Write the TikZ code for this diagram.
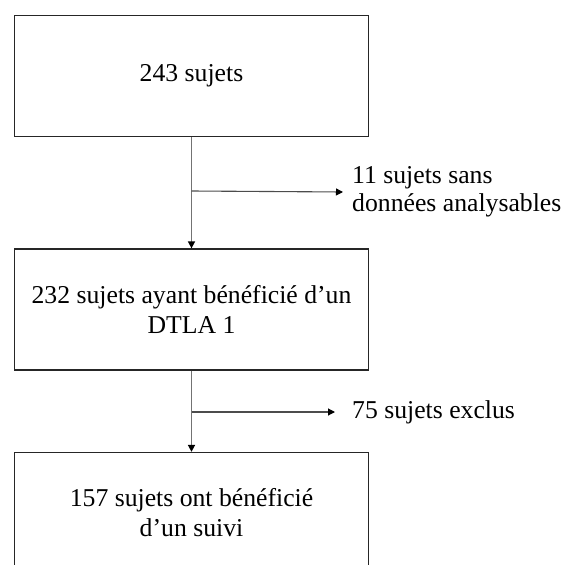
\documentclass[tikz,border=0pt]{standalone}
\usepackage{fontspec}
\setmainfont{Liberation Serif}
\usetikzlibrary{arrows.meta}
\begin{document}
\begin{tikzpicture}[x=1pt,y=-1pt,
  box/.style={draw=black!85,line width=1.3pt,minimum width=354pt,minimum height=121pt,
    inner sep=0pt,align=center,font=\fontsize{25.7}{30}\selectfont},
  lab/.style={anchor=west,align=left,inner ysep=0pt,font=\fontsize{25.7}{28}\selectfont},
  flow/.style={draw=black!55,line width=1.6pt,-{Triangle[length=7pt,width=7pt,color=black]}},
  side/.style={draw=black!70,line width=1.1pt,-{Triangle[length=7pt,width=7pt,color=black]}}]
\useasboundingbox (0,0) rectangle (560,565);
\node[box] (b1) at (191.5,76) {243 sujets};
\node[box] (b2) at (191.5,309.5) {232 sujets ayant bénéficié d’un\\DTLA 1};
\node[box] (b3) at (191.5,513) {157 sujets ont bénéficié\\d’un suivi};
\draw[flow] (b1.south) -- (b2.north);
\draw[flow] (b2.south) -- (b3.north);
\coordinate (br1) at (191.5,191);
\coordinate (br2) at (191.5,412);
\node[lab,inner xsep=9pt] (l1) at (343,192) {11 sujets sans\\données analysables};
\node[lab,inner xsep=17pt] (l2) at (335,412) {75 sujets exclus};
\draw[side] (br1) -- (l1.west);
\draw[side] (br2) -- (l2.west);
\end{tikzpicture}
\end{document}
